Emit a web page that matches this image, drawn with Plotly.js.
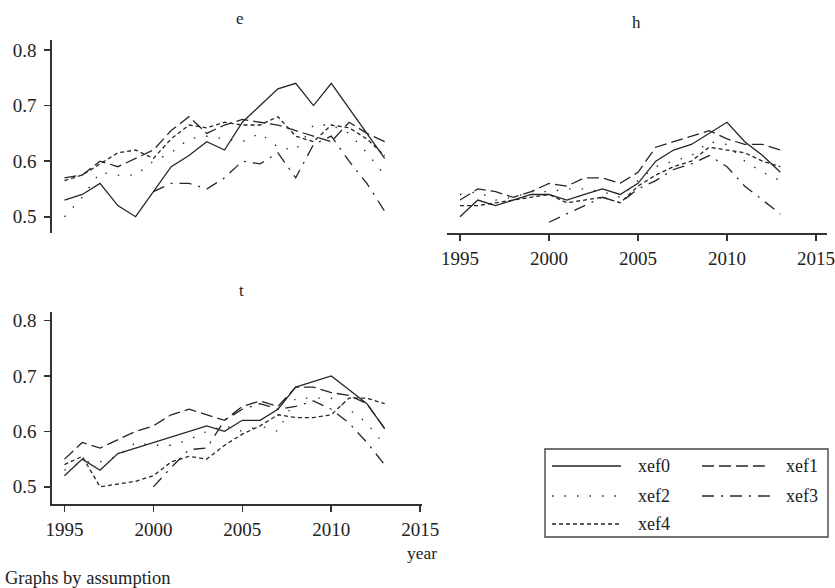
<!DOCTYPE html>
<html><head><meta charset="utf-8">
<script src="https://cdn.plot.ly/plotly-3.0.1.min.js"></script>
<style>html,body{margin:0;padding:0;background:#fff}#chart{width:835px;height:588px}</style>
</head><body><div id="chart"></div>
<script>
var years = [1995,1996,1997,1998,1999,2000,2001,2002,2003,2004,2005,2006,2007,2008,2009,2010,2011,2012,2013];
var seriesNames = ["xef0","xef1","xef2","xef3","xef4"];
var panelNames = ["e","h","t"];
var yTicks = [0.5,0.6,0.7,0.8];
var xTicks = [1995,2000,2005,2010,2015];

var e_xef0 = [0.53,0.54,0.56,0.52,0.50,0.545,0.59,0.61,0.635,0.62,0.67,0.70,0.73,0.74,0.70,0.74,0.695,0.65,0.605];
var e_xef1 = [0.57,0.575,0.60,0.59,0.605,0.62,0.655,0.68,0.65,0.665,0.675,0.67,0.665,0.655,0.645,0.635,0.67,0.65,0.635];
var e_xef2 = [0.50,0.535,0.58,0.575,0.575,0.60,0.615,0.64,0.645,0.64,0.635,0.65,0.625,0.62,0.665,0.665,0.65,0.615,0.575];
var e_xef3 = [null,null,null,null,null,0.545,0.56,0.56,0.55,0.57,0.60,0.595,0.615,0.57,0.63,0.645,0.60,0.56,0.51];
var e_xef4 = [0.565,0.575,0.595,0.615,0.62,0.605,0.64,0.665,0.66,0.67,0.665,0.665,0.68,0.645,0.635,0.665,0.66,0.64,0.61];

var h_xef0 = [0.50,0.53,0.52,0.53,0.54,0.54,0.53,0.54,0.55,0.54,0.56,0.60,0.62,0.63,0.65,0.67,0.635,0.61,0.58];
var h_xef1 = [0.53,0.55,0.545,0.535,0.545,0.56,0.555,0.57,0.57,0.56,0.58,0.625,0.635,0.645,0.655,0.64,0.63,0.63,0.62];
var h_xef2 = [0.54,0.545,0.53,0.535,0.545,0.545,0.55,0.55,0.545,0.535,0.565,0.59,0.60,0.61,0.635,0.63,0.60,0.58,0.565];
var h_xef3 = [null,null,null,null,null,0.49,0.505,0.52,0.535,0.525,0.55,0.565,0.585,0.595,0.61,0.59,0.555,0.53,0.505];
var h_xef4 = [0.52,0.52,0.525,0.53,0.535,0.54,0.525,0.53,0.535,0.525,0.555,0.575,0.59,0.60,0.625,0.62,0.615,0.60,0.59];

var t_xef0 = [0.52,0.55,0.53,0.56,0.57,0.58,0.59,0.60,0.61,0.60,0.62,0.62,0.64,0.68,0.69,0.70,0.675,0.65,0.605];
var t_xef1 = [0.55,0.58,0.57,0.585,0.60,0.61,0.63,0.64,0.63,0.62,0.645,0.655,0.645,0.68,0.68,0.67,0.665,0.65,0.605];
var t_xef2 = [0.53,0.545,0.545,0.555,0.58,0.575,0.575,0.585,0.60,0.61,0.60,0.61,0.60,0.66,0.66,0.66,0.64,0.615,0.575];
var t_xef3 = [null,null,null,null,null,0.50,0.535,0.567,0.57,0.62,0.64,0.65,0.64,0.645,0.655,0.64,0.615,0.58,0.54];
var t_xef4 = [0.54,0.555,0.50,0.505,0.51,0.52,0.545,0.555,0.55,0.575,0.595,0.61,0.63,0.625,0.625,0.63,0.66,0.66,0.65];

var W = 835, H = 588;
var dashes = ["solid","12px,5px","1.5px,11px","12px,7px,2px,7px","4px,3px"];
var lineColor = "#262626";
var font = "Liberation Serif";

var panelData = {
  e: [e_xef0,e_xef1,e_xef2,e_xef3,e_xef4],
  h: [h_xef0,h_xef1,h_xef2,h_xef3,h_xef4],
  t: [t_xef0,t_xef1,t_xef2,t_xef3,t_xef4]
};
var axisPairs = {e:["x","y"], h:["x2","y2"], t:["x3","y3"]};

var traces = [];
panelNames.forEach(function(p){
  panelData[p].forEach(function(vals, i){
    traces.push({
      x: years, y: vals, type: "scatter", mode: "lines",
      name: seriesNames[i], showlegend: false,
      xaxis: axisPairs[p][0], yaxis: axisPairs[p][1],
      line: {color: lineColor, width: 1.3, dash: dashes[i]},
      connectgaps: false, hoverinfo: "x+y+name"
    });
  });
});

function fx(px){ return px / W; }
function fy(py){ return 1 - py / H; }

function axis(extra){
  var o = {
    showgrid: false, zeroline: false, showline: true, linecolor: "#333", linewidth: 1.6,
    ticks: "outside", ticklen: 6, tickwidth: 1.6, tickcolor: "#333",
    tickfont: {family: font, size: 19, color: "#222"}, fixedrange: true
  };
  for (var k in extra) o[k] = extra[k];
  return o;
}

var xRangeL = [1994.3, 2015.1];
var xRangeR = [1994.27, 2015.62];
var yRangeTop = [0.4707, 0.818];
var yRangeBot = [0.469, 0.816];
var yLabels = yTicks.map(function(v){return v.toFixed(1);});

var layout = {
  width: W, height: H,
  margin: {l:0, r:0, t:0, b:0},
  paper_bgcolor: "#ffffff", plot_bgcolor: "#ffffff",
  font: {family: font, size: 17, color: "#222"},
  showlegend: false,
  xaxis: axis({domain:[fx(52), fx(422)], range: xRangeL, anchor:"y", visible:false}),
  yaxis: axis({domain:[fy(233), fy(40)], range: yRangeTop, anchor:"x", tickvals: yTicks, ticktext: yLabels, ticklabelstandoff: 4}),
  xaxis2: axis({domain:[fx(447), fx(827)], range: xRangeR, anchor:"y2", tickvals: xTicks, ticklabelstandoff: 2}),
  yaxis2: axis({domain:[fy(233), fy(40)], range: yRangeTop, anchor:"x2", visible:false}),
  xaxis3: axis({domain:[fx(52), fx(422)], range: xRangeL, anchor:"y3", tickvals: xTicks, ticklabelstandoff: 2}),
  yaxis3: axis({domain:[fy(504), fy(311.7)], range: yRangeBot, anchor:"x3", tickvals: yTicks, ticktext: yLabels, ticklabelstandoff: 4}),
  annotations: [],
  shapes: []
};

function ann(text, px, py, xanchor, size){
  layout.annotations.push({text: text, x: fx(px), y: fy(py), xref:"paper", yref:"paper",
    xanchor: xanchor || "center", yanchor:"middle", showarrow:false,
    font:{family: font, size: size || 17, color:"#222"}});
}
ann(panelNames[0], 240, 19, "center", 17);
ann(panelNames[1], 636, 22, "center", 17);
ann(panelNames[2], 241, 290, "center", 17);
ann("year", 405, 553, "left", 17.5);
ann("Graphs by assumption", 3, 578, "left", 18.5);

layout.shapes.push({type:"rect", xref:"paper", yref:"paper", x0:fx(545), x1:fx(828), y0:fy(537), y1:fy(449),
  line:{color:"#444", width:1.4}, fillcolor:"rgba(0,0,0,0)"});
var legPos = [[552,621,636,466],[702,770,784,466],[552,621,636,496],[702,770,784,496],[552,621,636,524]];
seriesNames.forEach(function(n,i){
  var p = legPos[i];
  layout.shapes.push({type:"line", xref:"paper", yref:"paper", x0:fx(p[0]), x1:fx(p[1]), y0:fy(p[3]), y1:fy(p[3]),
    line:{color:lineColor, width:1.4, dash: dashes[i]}});
  ann(n, p[2], p[3], "left", 18);
});

Plotly.newPlot("chart", traces, layout, {displayModeBar:false, staticPlot:true});
</script></body></html>
